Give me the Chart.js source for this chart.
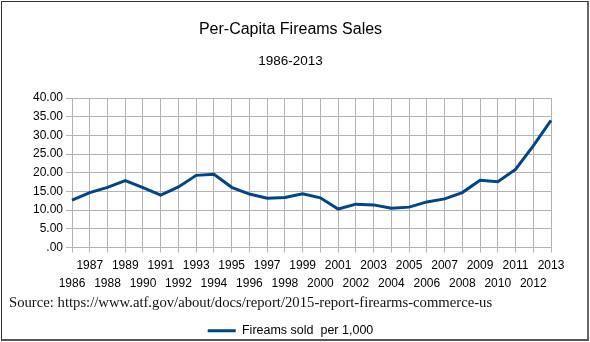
<!DOCTYPE html>
<html>
<head>
<meta charset="utf-8">
<script src="https://cdn.jsdelivr.net/npm/chart.js@4"></script>
<style>
  html, body { margin: 0; padding: 0; background: #fff; }
  #wrap { position: relative; width: 590px; height: 342px; }
  #frame {
    position: absolute; left: 1px; top: 1px; width: 585px; height: 337px;
    border-left: 1px solid #333; border-top: 1px solid #333;
    border-right: 2px solid #666; border-bottom: 2px solid #555;
    pointer-events: none;
  }
</style>
</head>
<body>
<div id="wrap">
  <canvas id="salesChart" width="590" height="342"></canvas>
  <div id="frame"></div>
</div>
<script>
const years = [1986, 1987, 1988, 1989, 1990, 1991, 1992, 1993, 1994, 1995,
               1996, 1997, 1998, 1999, 2000, 2001, 2002, 2003, 2004, 2005,
               2006, 2007, 2008, 2009, 2010, 2011, 2012, 2013];
const perThousand = [12.7, 14.7, 16.1, 17.9, 16.0, 14.0, 16.2, 19.3, 19.6, 16.1,
                     14.3, 13.2, 13.4, 14.4, 13.3, 10.3, 11.6, 11.4, 10.5, 10.8,
                     12.2, 13.0, 14.7, 18.0, 17.6, 20.9, 27.2, 34.0];
const yTicks = [0, 5, 10, 15, 20, 25, 30, 35, 40];
const sourceNote = 'Source: https://www.atf.gov/about/docs/report/2015-report-firearms-commerce-us';

// draws the source line between the year labels and the legend
const sourcePlugin = {
    id: 'sourceNote',
    afterDraw(chart) {
        const c = chart.ctx;
        c.save();
        c.font = '14.7px "Liberation Serif", serif';
        c.fillStyle = '#111';
        c.textBaseline = 'middle';
        c.textAlign = 'left';
        c.fillText(sourceNote, 9, chart.scales.x.bottom + 7);
        c.restore();
    }
};

Chart.defaults.font.family = '"Liberation Sans", Arial, sans-serif';
Chart.defaults.color = '#000';

const ctx = document.getElementById('salesChart').getContext('2d');
new Chart(ctx, {
    type: 'line',
    data: {
        labels: years,
        datasets: [{
            label: 'Fireams sold  per 1,000',
            data: perThousand,
            borderColor: '#004586',
            backgroundColor: '#004586',
            borderWidth: 3,
            pointRadius: 0,
            pointStyle: 'line',
            tension: 0,
            fill: false
        }]
    },
    plugins: [sourcePlugin],
    options: {
        responsive: false,
        animation: false,
        layout: { padding: { left: 30, right: 39, top: 0, bottom: -5 } },
        plugins: {
            title: {
                display: true,
                text: 'Per-Capita Fireams Sales',
                font: { size: 16, weight: 'normal' },
                padding: { top: 20.4, bottom: 0 }
            },
            subtitle: {
                display: true,
                text: '1986-2013',
                color: '#000',
                font: { size: 13.5, weight: 'normal' },
                padding: { top: 13.8, bottom: 28.4 }
            },
            legend: {
                position: 'bottom',
                labels: {
                    usePointStyle: true,
                    pointStyle: 'line',
                    pointStyleWidth: 28,
                    padding: 28,
                    font: { size: 12.5 },
                    color: '#000'
                }
            },
            tooltip: { enabled: false }
        },
        scales: {
            x: {
                type: 'category',
                grid: { color: '#b3b3b3', tickLength: 5, lineWidth: 1 },
                border: { color: '#b3b3b3' },
                ticks: {
                    autoSkip: false,
                    maxRotation: 0,
                    minRotation: 0,
                    padding: 4,
                    font: { size: 12, lineHeight: 1.5 },
                    callback: function (value, index) {
                        const y = String(years[index]);
                        return years[index] % 2 === 1 ? y : ['', y];
                    }
                }
            },
            y: {
                min: 0,
                max: 40,
                grid: { color: '#b3b3b3', tickLength: 6, lineWidth: 1 },
                border: { color: '#b3b3b3' },
                afterBuildTicks: axis => { axis.ticks = yTicks.map(v => ({ value: v })); },
                ticks: {
                    padding: 3,
                    font: { size: 12 },
                    callback: v => v === 0 ? '.00' : v.toFixed(2)
                }
            }
        }
    }
});
</script>
</body>
</html>
